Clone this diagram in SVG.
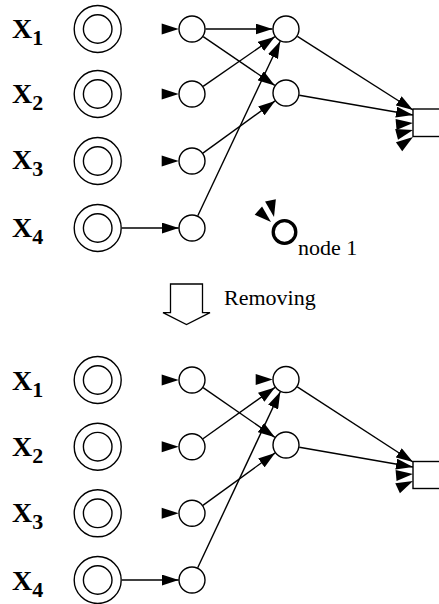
<svg xmlns="http://www.w3.org/2000/svg" xmlns:xlink="http://www.w3.org/1999/xlink" width="439" height="604" viewBox="0 0 439 604">
  <style>
    .arr { stroke: #000; stroke-width: 1.4; fill: none; marker-end: url(#ah); }
    .nd { stroke: #000; stroke-width: 1.4; fill: #fff; }
    .lbl { font-family: "Liberation Serif", "Times New Roman", serif; font-weight: bold; font-size: 28px; fill: #000; }
    .sub { font-size: 22px; }
    .txt { font-family: "Liberation Serif", "Times New Roman", serif; font-size: 22px; fill: #000; }
  </style>
  <defs>
    <marker id="ah" markerWidth="17" markerHeight="11" refX="17" refY="5.5" orient="auto" markerUnits="userSpaceOnUse">
      <path d="M0,0 L17,5.5 L0,11 z" fill="#000"/>
    </marker>
    <!-- loose arrowhead, tip at origin, pointing along +x -->
    <path id="head" d="M0,0 L-17,-5.5 L-17,5.5 z" fill="#000"/>
    <g id="dbl">
      <circle r="23.5" class="nd"/>
      <circle r="14.3" class="nd"/>
    </g>
  </defs>
  <rect width="439" height="604" fill="#fff"/>

  <!-- ===== network before removal ===== -->
  <g id="labels-top">
    <text class="lbl" x="12" y="38">X<tspan class="sub" dy="7">1</tspan></text>
    <text class="lbl" x="12" y="103">X<tspan class="sub" dy="7">2</tspan></text>
    <text class="lbl" x="12" y="169">X<tspan class="sub" dy="7">3</tspan></text>
    <text class="lbl" x="12" y="237">X<tspan class="sub" dy="7">4</tspan></text>
  </g>

  <g id="connectors-top">
    <line class="arr" x1="122" y1="228" x2="178.7" y2="228"/>
    <line class="arr" x1="205.5" y1="29" x2="272.5" y2="29"/>
    <line class="arr" x1="203.2" y1="36.6" x2="274.8" y2="85.4"/>
    <line class="arr" x1="203.1" y1="86.3" x2="274.9" y2="36.7"/>
    <line class="arr" x1="202.9" y1="153.1" x2="275.1" y2="100.9"/>
    <line class="arr" x1="197.8" y1="215.8" x2="280.2" y2="41.2"/>
    <line class="arr" x1="297.4" y1="36.3" x2="413" y2="110"/>
    <line class="arr" x1="299.3" y1="95.3" x2="413" y2="115"/>
    <use xlink:href="#head" transform="translate(178.7,29)"/>
    <use xlink:href="#head" transform="translate(178.7,94)"/>
    <use xlink:href="#head" transform="translate(178.7,161)"/>
    <use xlink:href="#head" transform="translate(413,123) rotate(-5)"/>
    <use xlink:href="#head" transform="translate(413,130) rotate(-15)"/>
    <use xlink:href="#head" transform="translate(413,137) rotate(-35)"/>
  </g>

  <g id="in1-top"><use xlink:href="#dbl" x="97.7" y="29"/></g>
  <g id="in2-top"><use xlink:href="#dbl" x="97.7" y="94"/></g>
  <g id="in3-top"><use xlink:href="#dbl" x="97.7" y="161"/></g>
  <g id="in4-top"><use xlink:href="#dbl" x="97.7" y="228"/></g>
  <g id="h1-top"><circle class="nd" cx="192" cy="29" r="13"/></g>
  <g id="h2-top"><circle class="nd" cx="192" cy="94" r="13"/></g>
  <g id="h3-top"><circle class="nd" cx="192" cy="161" r="13"/></g>
  <g id="h4-top"><circle class="nd" cx="192" cy="228" r="13"/></g>
  <g id="g1-top"><circle class="nd" cx="286" cy="29" r="13"/></g>
  <g id="g2-top"><circle class="nd" cx="286" cy="93" r="13"/></g>
  <g id="out-top"><rect class="nd" x="413" y="109" width="40" height="27.5"/></g>

  <!-- marker for the node being pruned -->
  <g id="node1">
    <circle cx="284.5" cy="232" r="11.3" fill="none" stroke="#000" stroke-width="3.3"/>
    <use xlink:href="#head" transform="translate(271,222) rotate(42)"/>
    <use xlink:href="#head" transform="translate(274,217) rotate(78)"/>
    <text class="txt" x="298" y="255">node 1</text>
  </g>

  <!-- block arrow between the two states -->
  <g id="removing">
    <path d="M170.5,284 H202.5 V312.7 H210 L186.5,324.5 L163,312.7 H170.5 Z" fill="#fff" stroke="#000" stroke-width="1.3"/>
    <text class="txt" x="224" y="305">Removing</text>
  </g>

  <!-- ===== network after removal ===== -->
  <g id="labels-bottom">
    <text class="lbl" x="12" y="390">X<tspan class="sub" dy="7">1</tspan></text>
    <text class="lbl" x="12" y="456">X<tspan class="sub" dy="7">2</tspan></text>
    <text class="lbl" x="12" y="522">X<tspan class="sub" dy="7">3</tspan></text>
    <text class="lbl" x="12" y="590">X<tspan class="sub" dy="7">4</tspan></text>
  </g>

  <g id="connectors-bottom">
    <line class="arr" x1="122" y1="580" x2="178.7" y2="580"/>
    <line class="arr" x1="203.1" y1="387.7" x2="274.9" y2="437.3"/>
    <line class="arr" x1="203" y1="438.8" x2="275" y2="387.4"/>
    <line class="arr" x1="202.9" y1="505.4" x2="275.1" y2="452.9"/>
    <line class="arr" x1="197.7" y1="567.8" x2="280.3" y2="391.7"/>
    <line class="arr" x1="297.3" y1="386.9" x2="413" y2="462"/>
    <line class="arr" x1="299.3" y1="447.3" x2="413" y2="467"/>
    <use xlink:href="#head" transform="translate(178.7,380)"/>
    <use xlink:href="#head" transform="translate(178.7,446.7)"/>
    <use xlink:href="#head" transform="translate(178.7,513.3)"/>
    <use xlink:href="#head" transform="translate(272.7,379.5)"/>
    <use xlink:href="#head" transform="translate(413,474) rotate(-5)"/>
    <use xlink:href="#head" transform="translate(413,481) rotate(-25)"/>
  </g>

  <g id="in1-bottom"><use xlink:href="#dbl" x="97.7" y="380"/></g>
  <g id="in2-bottom"><use xlink:href="#dbl" x="97.7" y="446.7"/></g>
  <g id="in3-bottom"><use xlink:href="#dbl" x="97.7" y="513.3"/></g>
  <g id="in4-bottom"><use xlink:href="#dbl" x="97.7" y="580"/></g>
  <g id="h1-bottom"><circle class="nd" cx="192" cy="380" r="13"/></g>
  <g id="h2-bottom"><circle class="nd" cx="192" cy="446.7" r="13"/></g>
  <g id="h3-bottom"><circle class="nd" cx="192" cy="513.3" r="13"/></g>
  <g id="h4-bottom"><circle class="nd" cx="192" cy="580" r="13"/></g>
  <g id="g1-bottom"><circle class="nd" cx="286" cy="379.5" r="13"/></g>
  <g id="g2-bottom"><circle class="nd" cx="286" cy="445" r="13"/></g>
  <g id="out-bottom"><rect class="nd" x="413" y="461.5" width="40" height="27"/></g>
</svg>
